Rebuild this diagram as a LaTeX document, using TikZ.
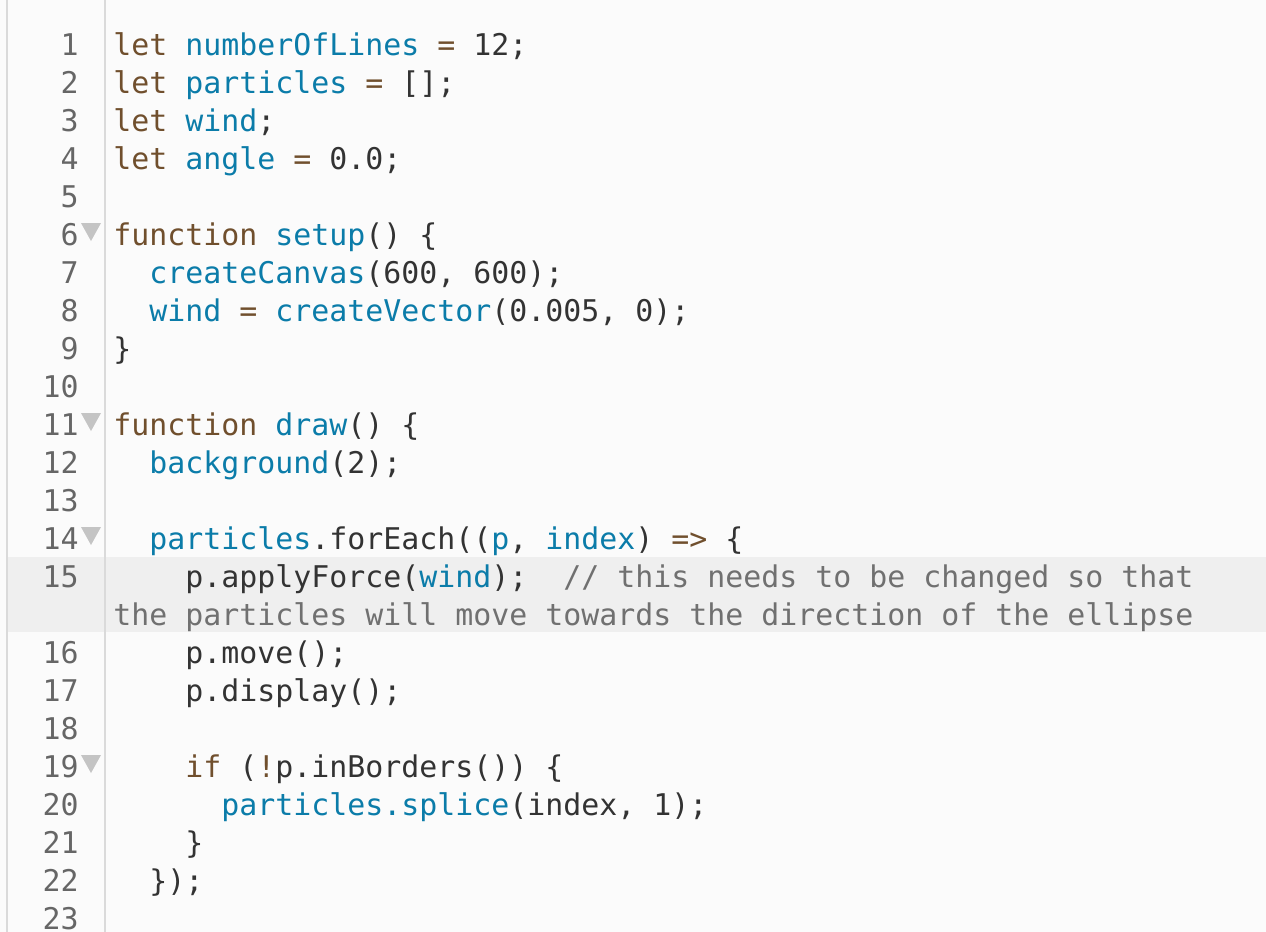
\documentclass[tikz,border=0pt]{standalone}
\usepackage{fontspec}
\setmonofont{DejaVu Sans Mono}
\usepackage{xcolor}
\definecolor{kwbrown}{HTML}{704F2D}
\definecolor{idblue}{HTML}{0B7CA9}
\definecolor{plaintext}{HTML}{333333}
\definecolor{cmtgray}{HTML}{707070}
\definecolor{numgray}{HTML}{666666}
\definecolor{foldgray}{HTML}{C4C4C4}
\definecolor{rulegray}{HTML}{DADADA}
\definecolor{editorbg}{HTML}{FBFBFB}
\definecolor{activebg}{HTML}{EFEFEF}
\newcommand{\kw}[1]{\textcolor{kwbrown}{#1}}
\newcommand{\id}[1]{\textcolor{idblue}{#1}}
\newcommand{\cmt}[1]{\textcolor{cmtgray}{#1}}
\tikzset{
    codeline/.style={anchor=base west, inner sep=0pt, text=plaintext,
        font=\fontsize{14.95}{18}\selectfont\ttfamily},
    linenum/.style={anchor=base east, inner sep=0pt, text=numgray,
        font=\fontsize{14.95}{18}\selectfont\ttfamily},
    foldmark/.style={fill=foldgray, draw=none}
}

\begin{document}
\begin{tikzpicture}[x=0.5pt, y=-0.5pt]
    \useasboundingbox (0, 0) rectangle (1266, 932);
    \fill[editorbg] (0, 0) rectangle (1266, 932);
    \fill[activebg] (8, 557) rectangle (1266, 632);
    \draw[rulegray, line width=0.75pt] (7, 0) -- (7, 932);
    \draw[rulegray, line width=1pt] (105, 0) -- (105, 932);

    \foreach \i in {1,...,15}
        \node[linenum] (n\i) at (79, {55 + 38*(\i - 1)}) {\i};
    \foreach \i in {16,...,23}
        \node[linenum] (n\i) at (79, {55 + 38*\i}) {\i};

    \fill[foldmark] (81, 223) -- (101, 223) -- (91, 241) -- cycle;
    \fill[foldmark] (81, 413) -- (101, 413) -- (91, 431) -- cycle;
    \fill[foldmark] (81, 527) -- (101, 527) -- (91, 545) -- cycle;
    \fill[foldmark] (81, 755) -- (101, 755) -- (91, 773) -- cycle;

    \node[codeline] (c1) at (113, 55) {\kw{let} \id{numberOfLines} \kw{=} 12;};
    \node[codeline] (c2) at (113, 93) {\kw{let} \id{particles} \kw{=} [];};
    \node[codeline] (c3) at (113, 131) {\kw{let} \id{wind};};
    \node[codeline] (c4) at (113, 169) {\kw{let} \id{angle} \kw{=} 0.0;};
    \node[codeline] (c6) at (113, 245) {\kw{function} \id{setup}() \{};
    \node[codeline] (c7) at (149, 283) {\id{createCanvas}(600, 600);};
    \node[codeline] (c8) at (149, 321) {\id{wind} \kw{=} \id{createVector}(0.005, 0);};
    \node[codeline] (c9) at (113, 359) {\}};
    \node[codeline] (c11) at (113, 435) {\kw{function} \id{draw}() \{};
    \node[codeline] (c12) at (149, 473) {\id{background}(2);};
    \node[codeline] (c14) at (149, 549) {\id{particles}.forEach((\id{p}, \id{index}) \kw{=>} \{};
    \node[codeline] (c15) at (185, 587) {p.applyForce(\id{wind});~~\cmt{// this needs to be changed so that}};
    \node[codeline] (c15b) at (113, 625) {\cmt{the particles will move towards the direction of the ellipse}};
    \node[codeline] (c16) at (185, 663) {p.move();};
    \node[codeline] (c17) at (185, 701) {p.display();};
    \node[codeline] (c19) at (185, 777) {\kw{if} (\kw{!}p.inBorders()) \{};
    \node[codeline] (c20) at (221, 815) {\id{particles.splice}(index, 1);};
    \node[codeline] (c21) at (185, 853) {\}};
    \node[codeline] (c22) at (149, 891) {\});};
\end{tikzpicture}
\end{document}
